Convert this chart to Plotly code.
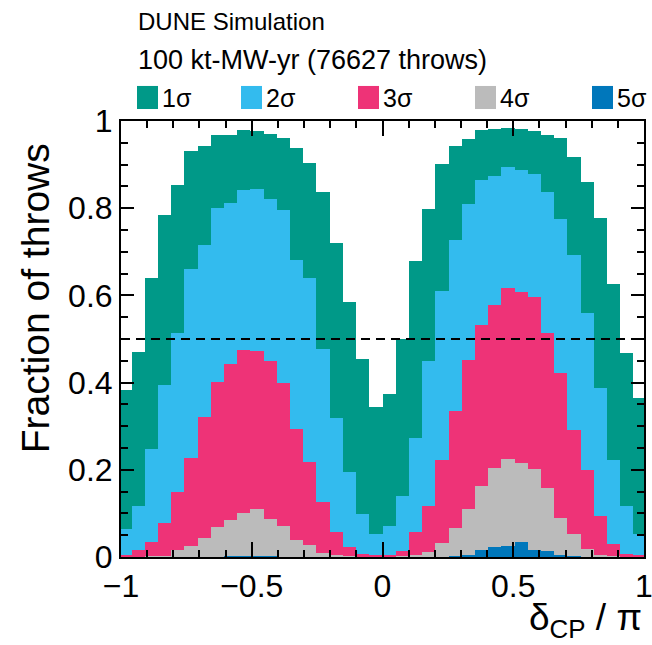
import numpy as np
import plotly.graph_objects as go

# ---------------- data ----------------
bin_lo, bin_hi, n_bins = -1.01, 1.01, 40
labels = ["1σ", "2σ", "3σ", "4σ", "5σ"]
colors = ["#009988", "#33BBEE", "#EE3377", "#BBBBBB", "#0077BB"]

sig1 = [0.384, 0.470, 0.641, 0.785, 0.854, 0.931, 0.942, 0.967, 0.969, 0.979,
        0.977, 0.971, 0.961, 0.937, 0.904, 0.837, 0.720, 0.584, 0.455, 0.345,
        0.374, 0.501, 0.678, 0.798, 0.902, 0.943, 0.959, 0.980, 0.982, 0.985,
        0.982, 0.977, 0.969, 0.961, 0.917, 0.861, 0.778, 0.627, 0.467, 0.364]
sig2 = [0.065, 0.118, 0.248, 0.394, 0.514, 0.661, 0.715, 0.800, 0.812, 0.841,
        0.844, 0.822, 0.795, 0.682, 0.640, 0.478, 0.319, 0.195, 0.099, 0.052,
        0.072, 0.140, 0.273, 0.449, 0.609, 0.728, 0.809, 0.864, 0.875, 0.895,
        0.888, 0.878, 0.837, 0.776, 0.692, 0.560, 0.388, 0.222, 0.118, 0.053]
sig3 = [0.003, 0.015, 0.034, 0.078, 0.150, 0.228, 0.321, 0.401, 0.443, 0.474,
        0.472, 0.449, 0.400, 0.293, 0.219, 0.126, 0.057, 0.024, 0.007, 0.003,
        0.005, 0.013, 0.057, 0.118, 0.223, 0.334, 0.452, 0.531, 0.579, 0.617,
        0.608, 0.596, 0.514, 0.422, 0.292, 0.200, 0.093, 0.030, 0.007, 0.003]
sig4 = [0.000, 0.000, 0.001, 0.002, 0.015, 0.026, 0.044, 0.068, 0.086, 0.101,
        0.111, 0.088, 0.070, 0.039, 0.028, 0.010, 0.003, 0.001, 0.000, 0.000,
        0.000, 0.002, 0.004, 0.011, 0.032, 0.066, 0.111, 0.164, 0.205, 0.225,
        0.215, 0.202, 0.158, 0.090, 0.053, 0.019, 0.005, 0.001, 0.000, 0.000]
sig5 = [0.000, 0.000, 0.000, 0.000, 0.000, 0.000, 0.000, 0.000, 0.002, 0.002,
        0.002, 0.002, 0.000, 0.000, 0.000, 0.000, 0.000, 0.000, 0.000, 0.000,
        0.000, 0.000, 0.000, 0.000, 0.000, 0.002, 0.004, 0.016, 0.023, 0.026,
        0.034, 0.016, 0.013, 0.003, 0.001, 0.000, 0.000, 0.000, 0.000, 0.000]
series = [sig1, sig2, sig3, sig4, sig5]

x_tickvals = [-1, -0.5, 0, 0.5, 1]
x_ticktext = ["−1", "−0.5", "0", "0.5", "1"]
y_tickvals = [0, 0.2, 0.4, 0.6, 0.8, 1]
y_ticktext = ["0", "0.2", "0.4", "0.6", "0.8", "1"]
threshold = 0.5

title1 = "DUNE Simulation"
title2 = "100 kt-MW-yr (76627 throws)"
xtitle = "δ<sub>CP</sub> / π"
ytitle = "Fraction of throws"

# ---------------- figure ----------------
edges = np.linspace(bin_lo, bin_hi, n_bins + 1)
centers = 0.5 * (edges[:-1] + edges[1:])
bw = edges[1] - edges[0]

FONT = "Liberation Sans, Arial, Helvetica, sans-serif"

fig = go.Figure()
for name, vals, col in zip(labels, series, colors):
    fig.add_trace(go.Bar(x=centers, y=vals, width=bw, name=name,
                         marker=dict(color=col, line=dict(width=0)),
                         showlegend=False))

fig.add_shape(type="line", xref="paper", yref="y", x0=0, x1=1,
              y0=threshold, y1=threshold, layer="above",
              line=dict(color="black", width=2, dash="9px,6px"))

# legend (manual, ROOT style) -- layout positions in pixels
L, W = 121, 523
B, H = 556.5, 435.5
def px2x(px):
    return (px - L) / W
def py2y(py):
    return (B - py) / H

leg_px = [137, 241, 358, 475, 592]
for x0, name, col in zip(leg_px, labels, colors):
    fig.add_shape(type="rect", xref="paper", yref="paper",
                  x0=px2x(x0), x1=px2x(x0 + 21), y0=py2y(109), y1=py2y(86),
                  fillcolor=col, line=dict(width=0))
    fig.add_annotation(text=name, xref="paper", yref="paper",
                       x=px2x(x0 + 23), y=py2y(98), xanchor="left",
                       yanchor="middle", showarrow=False,
                       font=dict(size=25, color="black", family=FONT))

fig.add_annotation(text=title1, xref="paper", yref="paper", x=px2x(136),
                   y=py2y(22), xanchor="left", yanchor="middle",
                   showarrow=False, font=dict(size=24, color="black", family=FONT))
fig.add_annotation(text=title2, xref="paper", yref="paper", x=px2x(136),
                   y=py2y(60), xanchor="left", yanchor="middle",
                   showarrow=False, font=dict(size=27, color="black", family=FONT))
fig.add_annotation(text=ytitle, xref="paper", yref="paper", x=px2x(35),
                   y=py2y(298), xanchor="center", yanchor="middle",
                   textangle=-90, showarrow=False,
                   font=dict(size=39, color="black", family=FONT))
fig.add_annotation(text=xtitle, xref="paper", yref="paper", x=px2x(644),
                   y=py2y(644), xanchor="right", yanchor="bottom",
                   showarrow=False, font=dict(size=37, color="black", family=FONT))

axis_common = dict(showline=True, linecolor="black", linewidth=2, mirror="allticks",
                   ticks="inside", tickwidth=2, tickcolor="black",
                   showgrid=False, zeroline=False, automargin=False,
                   ticklabeloverflow="allow",
                   tickfont=dict(size=32, color="black", family=FONT))

fig.update_xaxes(range=[-1, 1], tickmode="array", tickvals=x_tickvals,
                 ticktext=x_ticktext, ticklen=15,
                 minor=dict(dtick=0.1, tick0=0, ticklen=7, tickwidth=2,
                            tickcolor="black", ticks="inside", showgrid=False),
                 **axis_common)
fig.update_yaxes(range=[0, 1], tickmode="array", tickvals=y_tickvals,
                 ticktext=y_ticktext, ticklen=13,
                 minor=dict(dtick=0.05, tick0=0, ticklen=7, tickwidth=2,
                            tickcolor="black", ticks="inside", showgrid=False),
                 **axis_common)

fig.update_layout(width=652, height=645, barmode="overlay", bargap=0,
                  plot_bgcolor="white", paper_bgcolor="white",
                  margin=dict(l=121, r=8, t=121, b=88, autoexpand=False),
                  font=dict(family=FONT, color="black"))

fig.write_html("out.html")
